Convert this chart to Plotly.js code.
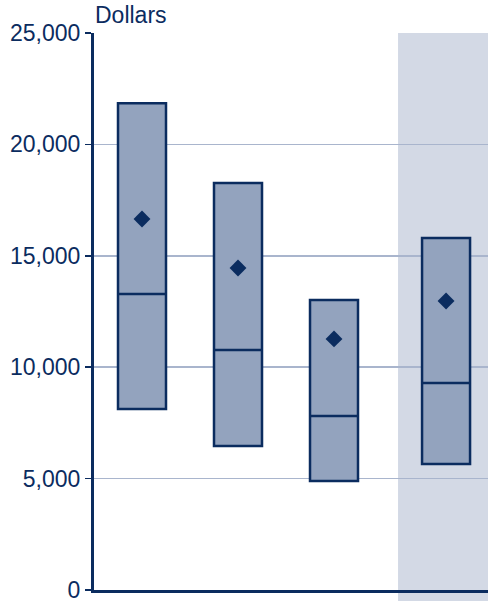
<!DOCTYPE html>
<html>
<head>
<meta charset="utf-8">
<script src="https://cdn.plot.ly/plotly-3.0.1.min.js"></script>
<style>html,body{margin:0;padding:0;background:#fff;}#chart{width:488px;height:601px;}</style>
</head>
<body>
<div id="chart"></div>
<script>
// Data (dollars)
const positions = [0.5, 1.5, 2.5, 3.667];
const lowValues = [8120, 6460, 4890, 5660];
const highValues = [21850, 18270, 13020, 15800];
const medianValues = [13290, 10770, 7810, 9290];
const meanValues = [16650, 14450, 11270, 12970];
const tickValues = [0, 5000, 10000, 15000, 20000, 25000];
const tickLabels = ['0', '5,000', '10,000', '15,000', '20,000', '25,000'];
const shadeStart = 3.167;

const dark = '#0b2c5f';
const boxWidth = 0.5;

const boxes = {
  type: 'bar',
  x: positions,
  base: lowValues,
  y: highValues.map((h, i) => h - lowValues[i]),
  width: boxWidth,
  marker: {color: '#93a3be', line: {color: dark, width: 2.5}},
  hoverinfo: 'skip'
};

const medX = [], medY = [];
positions.forEach((p, i) => {
  medX.push(p - boxWidth / 2, p + boxWidth / 2, null);
  medY.push(medianValues[i], medianValues[i], null);
});
const medians = {
  type: 'scatter', mode: 'lines', x: medX, y: medY,
  line: {color: dark, width: 2.5}, hoverinfo: 'skip'
};

const means = {
  type: 'scatter', mode: 'markers', x: positions, y: meanValues,
  marker: {symbol: 'diamond', size: 13, color: dark}, hoverinfo: 'skip'
};

const layout = {
  width: 488, height: 601,
  margin: {l: 94, r: 0, t: 33, b: 11, pad: 0},
  paper_bgcolor: '#ffffff', plot_bgcolor: 'rgba(0,0,0,0)',
  showlegend: false,
  font: {family: 'Liberation Sans, Arial, sans-serif', color: dark, size: 23},
  xaxis: {
    range: [0, 4.104], showgrid: false, zeroline: false,
    showline: true, linecolor: dark, linewidth: 3,
    showticklabels: false, ticks: '', fixedrange: true
  },
  yaxis: {
    range: [0, 25000], tickvals: tickValues, ticktext: tickLabels,
    showgrid: true, gridcolor: '#a9b5cd', gridwidth: 1.5,
    zeroline: false, showline: true, linecolor: dark, linewidth: 3,
    ticks: 'outside', ticklen: 6, tickwidth: 1.5, tickcolor: dark,
    ticklabeloverflow: 'allow',
    tickfont: {size: 23, color: dark}, fixedrange: true
  },
  shapes: [{
    type: 'rect', layer: 'below', xref: 'x', yref: 'paper',
    x0: shadeStart, x1: 4.104, y0: -0.03, y1: 1,
    fillcolor: '#d3d9e5', line: {width: 0}
  }],
  annotations: [{
    text: 'Dollars', xref: 'paper', yref: 'paper', x: 0, y: 1,
    xanchor: 'left', yanchor: 'bottom', showarrow: false, xshift: -1, yshift: 3,
    font: {size: 23, color: dark}
  }]
};

Plotly.newPlot('chart', [boxes, medians, means], layout, {displayModeBar: false, staticPlot: true});
</script>
</body>
</html>
